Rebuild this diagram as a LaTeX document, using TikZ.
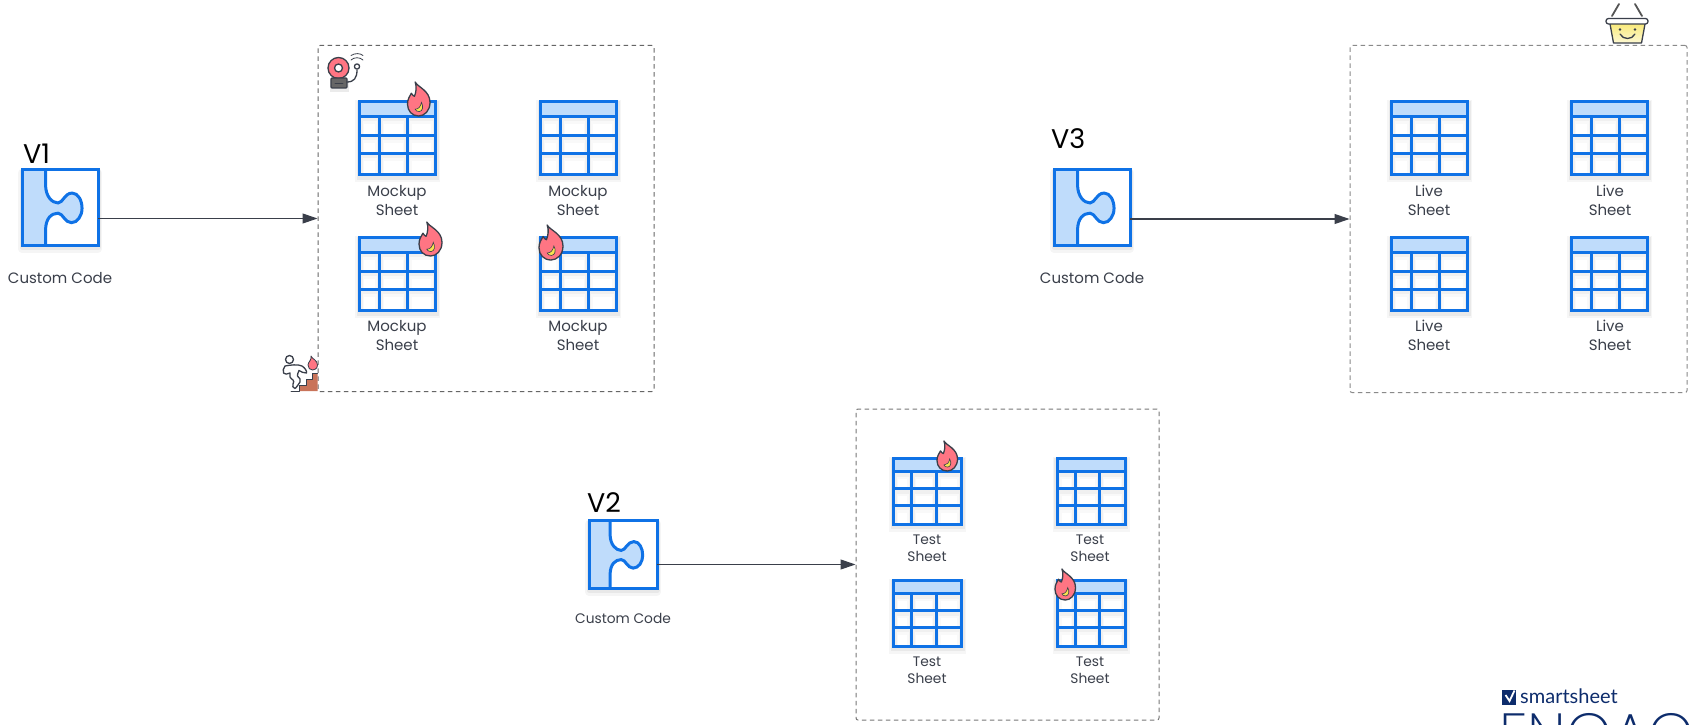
\documentclass[tikz,border=0pt]{standalone}
\usepackage{fontspec}
\setmainfont{Poppins}
\newfontfamily\logofont{Lato}
\newfontfamily\engagefont{Poppins ExtraLight}
\usetikzlibrary{arrows.meta}
\definecolor{sblue}{HTML}{0F72E6}
\definecolor{slight}{HTML}{BFDCFB}
\definecolor{flamec}{HTML}{FF7583}
\definecolor{inkc}{HTML}{3A3F4A}
\definecolor{yellowc}{HTML}{F7E34F}
\definecolor{navyc}{HTML}{0D2C6C}
\definecolor{brickc}{HTML}{C9745A}
\definecolor{dasha}{HTML}{666666}
\definecolor{dashb}{HTML}{777777}
\definecolor{dashc}{HTML}{8A8A8A}
\definecolor{grayc}{HTML}{666666}
\definecolor{grayd}{HTML}{555555}
\tikzset{
  groupbox/.style={draw=#1,line width=1pt,dash pattern=on 4.5pt off 3.5pt,rounded corners=2pt,inner sep=0pt,fill=white},
  conn/.style={draw=inkc,line width=1.1pt,-{Triangle[length=15pt,width=10pt]},shorten >=0pt},
  lab/.style={text=inkc,align=center,inner sep=0pt,font=\fontsize{15}{19}\selectfont},
  labs/.style={text=inkc,align=center,inner sep=0pt,font=\fontsize{13.8}{17.3}\selectfont},
  ver/.style={text=black,inner sep=0pt,font=\fontsize{27}{28}\selectfont},
  icon/.style={draw=inkc,line width=1.3pt,line join=round,line cap=round},
  soft/.style={draw=black,opacity=#1,line join=round},
}
\newcommand{\sheetgrid}[3]{%
  \draw[#1,line width=#2,yshift=#3,line join=miter] (0,0) rectangle (1,1)
    (0,.2)--(1,.2) (0,.46)--(1,.46) (0,.71)--(1,.71)
    (.265,.2)--(.265,1) (.625,.2)--(.625,1);}
\newcommand{\sheetpic}[5]{%
  \begin{scope}[shift={(#2,#3)},x=#4pt,y=-#5pt]
    \sheetgrid{soft=.035}{9pt}{-3pt}
    \sheetgrid{soft=.05}{6pt}{-2pt}
    \fill[white,opacity=.35] (0,.2) rectangle (1,1);
    \fill[slight] (0,0) rectangle (1,.2);
    \sheetgrid{draw=sblue}{3pt}{0pt}
    \node[inner sep=0pt,minimum size=0pt] (#1) at (.5,.5) {};
  \end{scope}}
\newcommand{\puzzlepic}[5]{%
  \begin{scope}[shift={(#2,#3)},x=#4pt,y=-#5pt]
    \draw[soft=.04,line width=8pt,yshift=-3pt] (0,0) rectangle (1,1);
    \draw[soft=.05,line width=5pt,yshift=-2pt] (0,0) rectangle (1,1);
    \fill[white] (0,0) rectangle (1,1);
    \fill[slight] (0,0) -- (.31,0) -- (.31,.2)
      .. controls (.31,.36) and (.40,.44) .. (.474,.44)
      .. controls (.54,.44) and (.56,.31) .. (.66,.31)
      .. controls (.74,.31) and (.79,.41) .. (.79,.51)
      .. controls (.79,.61) and (.73,.70) .. (.65,.70)
      .. controls (.56,.70) and (.54,.575) .. (.474,.575)
      .. controls (.39,.575) and (.31,.64) .. (.31,.8) -- (.31,1) -- (0,1) -- cycle;
    \draw[sblue,line width=3pt] (.31,0) -- (.31,.2)
      .. controls (.31,.36) and (.40,.44) .. (.474,.44)
      .. controls (.54,.44) and (.56,.31) .. (.66,.31)
      .. controls (.74,.31) and (.79,.41) .. (.79,.51)
      .. controls (.79,.61) and (.73,.70) .. (.65,.70)
      .. controls (.56,.70) and (.54,.575) .. (.474,.575)
      .. controls (.39,.575) and (.31,.64) .. (.31,.8) -- (.31,1);
    \draw[sblue,line width=3pt] (0,0) rectangle (1,1);
    \node[inner sep=0pt,minimum width=#4pt,minimum height=#5pt] (#1) at (.5,.5) {};
  \end{scope}}
\newcommand{\flamepic}[4]{%
  \begin{scope}[shift={(#1,#2)},x=#3pt,y=-#4pt]
    \path[icon,fill=flamec] (.34,0) .. controls (.45,.15) and (1,.25) .. (1,.6)
      .. controls (1,.85) and (.75,1) .. (.5,1)
      .. controls (.2,1) and (0,.85) .. (0,.65)
      .. controls (0,.5) and (.1,.42) .. (.17,.33)
      .. controls (.22,.38) and (.27,.42) .. (.31,.42)
      .. controls (.38,.3) and (.42,.15) .. (.34,0) -- cycle;
    \path[draw=inkc,line width=.6pt,fill=yellowc] (.62,.6) .. controls (.72,.72) and (.68,.86) .. (.52,.87)
      .. controls (.42,.87) and (.36,.84) .. (.34,.8)
      .. controls (.5,.8) and (.58,.72) .. (.62,.6) -- cycle;
  \end{scope}}
\begin{document}
\begin{tikzpicture}[x=1pt,y=-1pt]
\useasboundingbox (0,0) rectangle (1690,725);
\clip (0,0) rectangle (1690,725);
\fill[white] (0,0) rectangle (1690,725);

% group boxes
\node[groupbox=dasha,minimum width=336pt,minimum height=346pt] (b1) at (486,218.5) {};
\node[groupbox=dashb,minimum width=303pt,minimum height=311pt] (b2) at (1007.5,564.5) {};
\node[groupbox=dashc,minimum width=337pt,minimum height=347pt] (b3) at (1518.5,219) {};

% V1 group
\sheetpic{s11}{359.5}{101.5}{76}{73}
\sheetpic{s12}{540.5}{101.5}{76}{73}
\sheetpic{s13}{359.5}{237.5}{76}{73}
\sheetpic{s14}{540.5}{237.5}{76}{73}
\node[lab] (l11) at (397,200.5) {Mockup\\Sheet};
\node[lab] (l12) at (578,200.5) {Mockup\\Sheet};
\node[lab] (l13) at (397,335.5) {Mockup\\Sheet};
\node[lab] (l14) at (578,335.5) {Mockup\\Sheet};
\flamepic{407.5}{82}{22.5}{34}
\flamepic{419}{222}{23}{34}
\flamepic{539}{225}{24}{35}

% V3 group
\sheetpic{s31}{1391.5}{101.5}{76}{73}
\sheetpic{s32}{1571.5}{101.5}{76}{73}
\sheetpic{s33}{1391.5}{237.5}{76}{73}
\sheetpic{s34}{1571.5}{237.5}{76}{73}
\node[lab] (l31) at (1429,200.5) {Live\\Sheet};
\node[lab] (l32) at (1610,200.5) {Live\\Sheet};
\node[lab] (l33) at (1429,335.5) {Live\\Sheet};
\node[lab] (l34) at (1610,335.5) {Live\\Sheet};

% V2 group
\sheetpic{s21}{893.5}{458.5}{68}{65.5}
\sheetpic{s22}{1057}{458.5}{68}{65.5}
\sheetpic{s23}{893.5}{580.5}{68}{65.5}
\sheetpic{s24}{1057}{580.5}{68}{65.5}
\node[labs] (l21) at (927,548) {Test\\Sheet};
\node[labs] (l22) at (1090,548) {Test\\Sheet};
\node[labs] (l23) at (927,670) {Test\\Sheet};
\node[labs] (l24) at (1090,670) {Test\\Sheet};
\flamepic{937}{441}{20.5}{30}
\flamepic{1055}{569}{20.5}{31}

% custom code blocks
\puzzlepic{c1}{22}{169.5}{76}{76}
\puzzlepic{c3}{1054}{169.5}{76}{76}
\puzzlepic{c2}{589}{520.5}{68}{68}
\node[lab] (t1) at (60,278) {Custom Code};
\node[lab] (t3) at (1092,278) {Custom Code};
\node[labs] (t2) at (623,618) {Custom Code};
\node[ver,anchor=west] (v1) at (23,154) {V1};
\node[ver,anchor=west] (v3) at (1051,139) {V3};
\node[ver,anchor=west] (v2) at (587,503) {V2};

% connectors
\draw[conn] (c1.east |- b1.west) -- (b1.west);
\draw[conn] (c3.east |- b3.west) -- (b3.west);
\draw[conn] (c2.east |- b2.west) -- (b2.west);

% bell
\begin{scope}
  \fill[black,opacity=.08] (330,80) rectangle (349,92);
  \draw[icon,fill=flamec] (338.5,68) circle (10.5);
  \draw[icon,fill=white] (338.5,68) circle (4);
  \draw[icon,fill=grayc,rounded corners=1pt] (331,78) rectangle (347,88);
  \draw[icon,line width=.9pt] (335,83) -- (343,83);
  \draw[icon] (347,82) .. controls (354,82) and (357,78) .. (357,70);
  \draw[icon,fill=white] (357,66.5) circle (2.6);
  \draw[icon,line width=.8pt] (351,60) .. controls (354,57) and (360,57) .. (363,60);
  \draw[icon,line width=.8pt] (351,55.5) .. controls (355,53) and (360,53) .. (363,55.5);
\end{scope}

% runner
\begin{scope}
  \fill[brickc] (299.5,391) -- (299.5,385) -- (306.7,385) -- (306.7,379.3) -- (312.7,379.3) -- (312.7,373.5) -- (317.5,373.5) -- (317.5,391) -- cycle;
  \draw[icon,line width=1pt] (291,391) -- (299.5,391) -- (299.5,385) -- (306.7,385) -- (306.7,379.3) -- (312.7,379.3) -- (312.7,373.5) -- (317.5,373.5);
  \draw[icon,fill=white] (289.5,359.5) circle (4);
  \path[icon,fill=white] (285,366) .. controls (290,365) and (298,364) .. (302,366)
    .. controls (305,368) and (307,371) .. (306.5,373)
    .. controls (304,373) and (301,372) .. (299,370.5)
    .. controls (298,373) and (297,375) .. (297.5,376)
    .. controls (300,378) and (301,380) .. (300,382)
    .. controls (298,385) and (296,388) .. (295,388.5)
    .. controls (293,388) and (292,386) .. (293,384)
    .. controls (294,382) and (294,381) .. (293,380)
    .. controls (290,378) and (289,376) .. (290,373)
    .. controls (287,374) and (285,375) .. (283.5,373)
    .. controls (283,371) and (283,368) .. (285,366) -- cycle;
  \path[icon,line width=.8pt,fill=flamec] (311,356) .. controls (312,359) and (317.5,360) .. (317.5,365)
     .. controls (317.5,369) and (314,370) .. (312.5,370)
     .. controls (310,370) and (308,368) .. (308,365)
     .. controls (308,362) and (312,360) .. (311,356) -- cycle;
\end{scope}

% basket
\begin{scope}
  \draw[icon,line width=1.8pt,draw=grayd] (1612,16) -- (1619,4);
  \draw[icon,line width=1.8pt,draw=grayd] (1642,16) -- (1635,4);
  \shade[top color=yellowc!75!white,bottom color=yellowc!25!white] (1610,24) -- (1613.5,43) -- (1641.5,43) -- (1645,24) -- cycle;
  \draw[icon] (1610,24) -- (1613.5,43) -- (1641.5,43) -- (1645,24);
  \draw[icon,fill=white,rounded corners=2.5pt] (1606,18.5) rectangle (1648,24);
  \fill[inkc] (1620,29.5) circle (1.3) (1635,29.5) circle (1.3);
  \draw[icon] (1620,34) .. controls (1623,40) and (1632,40) .. (1635,34);
\end{scope}

% logo
\begin{scope}
  \fill[navyc] (1502,689.5) rectangle (1516,705);
  \draw[white,line width=1.8pt] (1505.5,695) -- (1509.5,701) -- (1514.5,690.5);
\end{scope}
\node[anchor=base west,inner sep=0pt,text=navyc,font=\logofont\fontsize{20}{24}\selectfont] (logo) at (1520,703.5) {smartsheet};
\node[anchor=base west,inner sep=0pt,text=navyc,font=\engagefont\fontsize{58}{58}\selectfont] (engage) at (1499,754) {ENGAGE};
\end{tikzpicture}
\end{document}
